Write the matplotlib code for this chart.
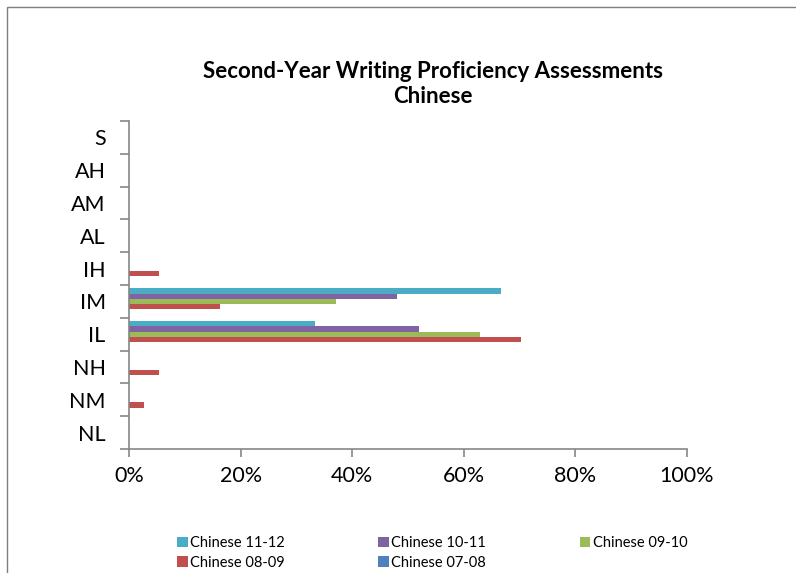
import numpy as np
import matplotlib
matplotlib.use('Agg')
from matplotlib import pyplot as plt
from matplotlib.patches import Rectangle
from matplotlib.ticker import FixedLocator, PercentFormatter

plt.rcParams['font.family'] = ['Lato', 'DejaVu Sans']

levels = ['NL', 'NM', 'NH', 'IL', 'IM', 'IH', 'AL', 'AM', 'AH', 'S']
# series in plotting order, bottom bar of each group first
series_names = ['Chinese 07-08', 'Chinese 08-09', 'Chinese 09-10', 'Chinese 10-11', 'Chinese 11-12']
series_colors = ['#4f81bd', '#c0504d', '#9bbb59', '#8064a2', '#4bacc6']
chinese_0708 = [0, 0, 0, 0, 0, 0, 0, 0, 0, 0]
chinese_0809 = [0, 2.7, 5.4, 70.3, 16.2, 5.4, 0, 0, 0, 0]
chinese_0910 = [0, 0, 0, 63.0, 37.0, 0, 0, 0, 0, 0]
chinese_1011 = [0, 0, 0, 51.9, 48.1, 0, 0, 0, 0, 0]
chinese_1112 = [0, 0, 0, 33.3, 66.7, 0, 0, 0, 0, 0]
series_vals = [chinese_0708, chinese_0809, chinese_0910, chinese_1011, chinese_1112]

fig = plt.figure(figsize=(7.96, 5.73), dpi=100)
ax = fig.add_axes([0.1625, 0.2164, 0.7002, 0.5726])

# outer chart border
fig.patches.append(Rectangle((7 / 796, -0.05), 1.2, 1 - 7 / 573 + 0.05,
                             transform=fig.transFigure, fill=False,
                             ec='#7f7f7f', lw=1.0))

y = np.arange(len(levels))
h = 0.158
handles = {}
for i, (name, vals, col) in enumerate(zip(series_names, series_vals, series_colors)):
    off = (i - 2) * h
    b = ax.barh(y + off, vals, height=h, color=col, label=name)
    handles[name] = b

ax.set_xlim(0, 100)
ax.set_ylim(-0.5, len(levels) - 0.5)
ax.xaxis.set_major_locator(FixedLocator([0, 20, 40, 60, 80, 100]))
ax.xaxis.set_major_formatter(PercentFormatter(decimals=0))
ax.set_yticks(y)
ax.set_yticklabels(levels)
ax.yaxis.set_minor_locator(FixedLocator(np.arange(len(levels) + 1) - 0.5))
ax.tick_params(axis='y', which='major', length=0, pad=17, labelsize=15.5)
ax.tick_params(axis='y', which='minor', length=6.5, width=1.2, color='#868686')
ax.tick_params(axis='x', length=6, width=1.2, color='#868686', pad=6, labelsize=15.5)

for s in ['top', 'right']:
    ax.spines[s].set_visible(False)
for s in ['left', 'bottom']:
    ax.spines[s].set_color('#868686')
    ax.spines[s].set_linewidth(1.2)

fig.text(0.544, 0.853, 'Second-Year Writing Proficiency Assessments\nChinese',
         ha='center', va='center', fontsize=16, fontweight='bold',
         linespacing=1.25)

order = ['Chinese 11-12', 'Chinese 08-09', 'Chinese 10-11', 'Chinese 07-08', 'Chinese 09-10']
fig.legend([handles[n] for n in order], order, ncol=3, loc='center',
           bbox_to_anchor=(0.543, 0.035), frameon=False, fontsize=10.5,
           handlelength=0.75, handleheight=0.75, handletextpad=0.15,
           columnspacing=6.4, labelspacing=0.4)

fig.savefig('out.png', dpi=100)
